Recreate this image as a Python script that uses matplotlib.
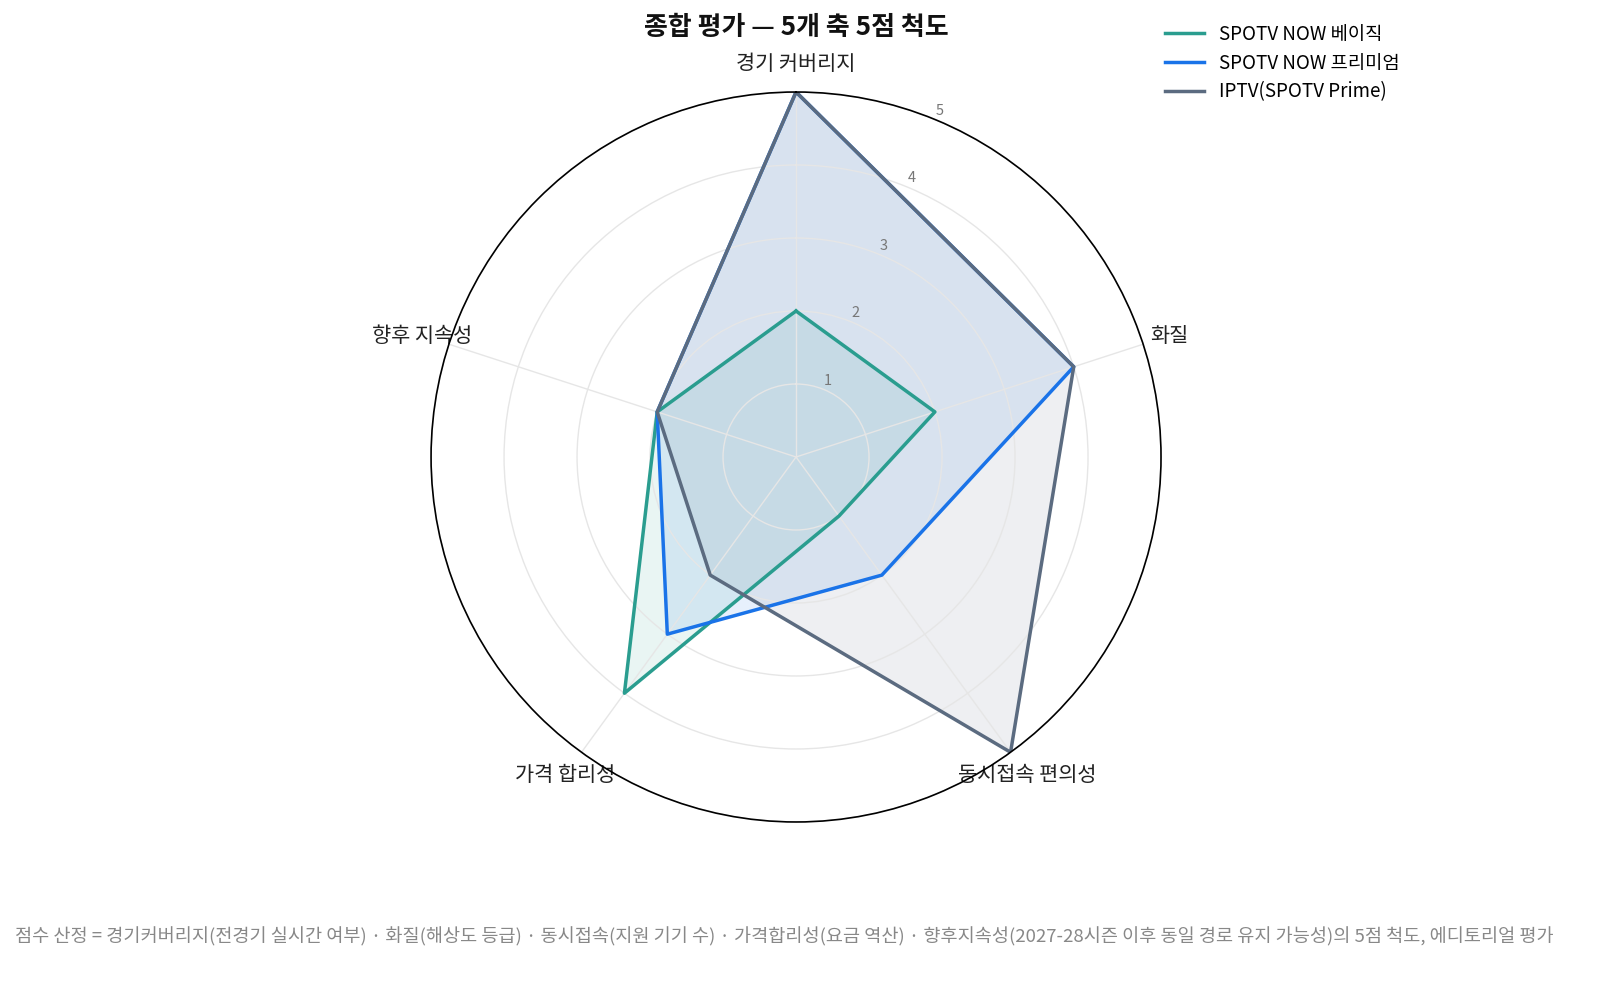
#!/usr/bin/env python3
"""Radar chart: SPOTV NOW / IPTV 종합 평가."""

import numpy as np
import matplotlib
matplotlib.use("Agg")
import matplotlib.pyplot as plt

plt.rcParams["font.family"] = ["Noto Sans CJK KR", "DejaVu Sans"]

axes_labels = ["경기 커버리지", "화질", "동시접속 편의성", "가격 합리성", "향후 지속성"]
basic = [2, 2, 1, 4, 2]
premium = [5, 4, 2, 3, 2]
iptv = [5, 4, 5, 2, 2]
series_names = ["SPOTV NOW 베이직", "SPOTV NOW 프리미엄", "IPTV(SPOTV Prime)"]
series_colors = ["#2a9d8f", "#1a73e8", "#5b6b80"]
r_ticks = [1, 2, 3, 4, 5]

title = "종합 평가 — 5개 축 5점 척도"
footnote = ("점수 산정 = 경기커버리지(전경기 실시간 여부) · 화질(해상도 등급) · 동시접속(지원 기기 수) · "
            "가격합리성(요금 역산) · 향후지속성(2027-28시즌 이후 동일 경로 유지 가능성)의 5점 척도, 에디토리얼 평가")


def main() -> None:
    fig = plt.figure(figsize=(16, 9.81), dpi=100)
    ax = fig.add_axes([0.2694, 0.1621, 0.45625, 0.7441], projection="polar")
    ax.set_theta_zero_location("N")
    ax.set_theta_direction(-1)

    n = len(axes_labels)
    theta = np.linspace(0, 2 * np.pi, n, endpoint=False)
    theta_closed = np.append(theta, theta[0])

    # fills first, grid over them, then lines on top (in trace order)
    all_series = [basic, premium, iptv]
    for vals, color in zip(all_series, series_colors):
        v = np.append(vals, vals[0])
        ax.fill(theta_closed, v, color=color, alpha=0.1, lw=0, zorder=1)
    for vals, color, name in zip(all_series, series_colors, series_names):
        v = np.append(vals, vals[0])
        ax.plot(theta_closed, v, color=color, lw=2.5, label=name, zorder=3)

    ax.set_axisbelow(False)
    ax.set_ylim(0, 5)
    ax.set_yticks(r_ticks)
    ax.set_yticklabels([])
    ax.set_xticks(theta)
    ax.set_xticklabels([])
    ax.grid(color="#e6e6e6", lw=1.0)
    ax.spines["polar"].set_color("black")
    ax.spines["polar"].set_linewidth(1.2)
    ax.spines["polar"].set_zorder(4)

    for r in r_ticks:
        ax.text(np.deg2rad(22.5), r + 0.13, str(r), ha="center", va="center",
                fontsize=10.5, color="#777777")

    for t, lab in zip(theta, axes_labels):
        ax.text(t, 5.38, lab, ha="center", va="center", fontsize=15, color="#222222")

    fig.text(0.4975, 0.972, title, ha="center", va="center", fontsize=18.7,
             fontweight="bold", color="#111111")

    fig.legend(loc="upper left", bbox_to_anchor=(0.7173, 0.993), frameon=False,
               fontsize=13.5, handlelength=2.1, labelspacing=0.42, handletextpad=0.8)

    fig.text(0.49, 0.045, footnote, ha="center", va="center", fontsize=13.4, color="#888888")

    fig.savefig("out.png", dpi=100)


if __name__ == "__main__":
    main()
